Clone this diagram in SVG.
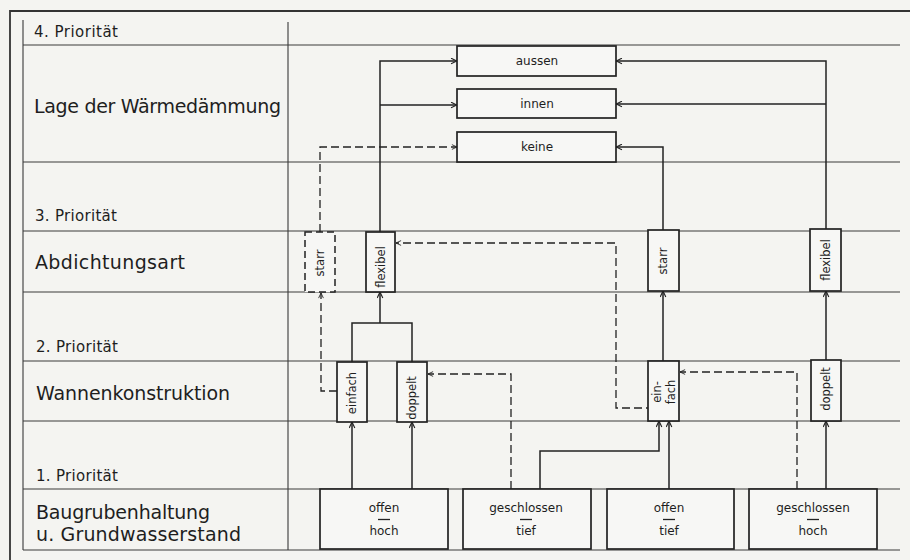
<svg xmlns="http://www.w3.org/2000/svg" width="910" height="560" viewBox="0 0 910 560">
<defs>
<style>
.bg{fill:#f4f4f1}
.grid{stroke:#3a3a3a;stroke-width:1.1;fill:none}
.frame{stroke:#333;stroke-width:1.8;fill:none}
.lbl{font-family:"DejaVu Sans","Liberation Sans",sans-serif;fill:#1e1e1e}
.big{font-size:19px}
.pri{font-size:15px}
.box{fill:#f7f7f5;stroke:#222;stroke-width:1.7}
.dbox{fill:#f7f7f5;stroke:#222;stroke-width:1.5;stroke-dasharray:7 4}
.bt{font-family:"DejaVu Sans","Liberation Sans",sans-serif;font-size:12px;fill:#1e1e1e;text-anchor:middle}
.vt{font-size:11.5px}
.bar{stroke:#222;stroke-width:1.3;fill:none}
.sol{stroke:#222;stroke-width:1.5;fill:none}
.dash{stroke:#222;stroke-width:1.3;fill:none;stroke-dasharray:8 4}
</style>
<marker id="a" viewBox="0 0 10 10" refX="9.5" refY="5" markerWidth="7" markerHeight="7" markerUnits="userSpaceOnUse" orient="auto"><path d="M1,1 L9.5,5 L1,9" fill="none" stroke="#222" stroke-width="1.6"/></marker>
<marker id="d" viewBox="0 0 10 10" refX="9.5" refY="5" markerWidth="6" markerHeight="6" markerUnits="userSpaceOnUse" orient="auto"><path d="M1,1 L9.5,5 L1,9" fill="none" stroke="#222" stroke-width="1.4"/></marker>
</defs>
<rect class="bg" x="0" y="0" width="910" height="560"/>

<g id="table">
<path class="frame" d="M10,560 V11 H910"/>
<path class="grid" d="M23,20 V550 M288,22 V550 M23,45 H900 M23,162 H900 M23,231 H900 M23,292 H900 M23,361 H900 M23,421 H900 M23,489 H900 M23,550 H900"/>
<text class="lbl pri" x="34" y="37" textLength="84" lengthAdjust="spacing">4. Priorität</text>
<text class="lbl big" x="34" y="113" textLength="247" lengthAdjust="spacing">Lage der Wärmedämmung</text>
<text class="lbl pri" x="35" y="221" textLength="82" lengthAdjust="spacing">3. Priorität</text>
<text class="lbl big" x="35" y="269" textLength="150" lengthAdjust="spacing">Abdichtungsart</text>
<text class="lbl pri" x="36" y="352" textLength="82" lengthAdjust="spacing">2. Priorität</text>
<text class="lbl big" x="36" y="400" textLength="194" lengthAdjust="spacing">Wannenkonstruktion</text>
<text class="lbl pri" x="36" y="481" textLength="82" lengthAdjust="spacing">1. Priorität</text>
<text class="lbl big" x="36" y="519" textLength="174" lengthAdjust="spacing">Baugrubenhaltung</text>
<text class="lbl big" x="36" y="541" textLength="205" lengthAdjust="spacing">u. Grundwasserstand</text>
</g>

<g id="connectors">
<path class="sol" d="M380,232 V61 H457" marker-end="url(#a)"/>
<path class="sol" d="M380,105 H457" marker-end="url(#a)"/>
<path class="sol" d="M826,229 V61 H616" marker-end="url(#a)"/>
<path class="sol" d="M826,104 H616" marker-end="url(#a)"/>
<path class="sol" d="M663,230 V147 H616" marker-end="url(#a)"/>
<path class="sol" d="M352,362 V323 H412 V362"/>
<path class="sol" d="M380,323 V292" marker-end="url(#a)"/>
<path class="sol" d="M352,489 V422" marker-end="url(#a)"/>
<path class="sol" d="M412,489 V422" marker-end="url(#a)"/>
<path class="sol" d="M540,489 V451 H659 V421" marker-end="url(#a)"/>
<path class="sol" d="M669,489 V421" marker-end="url(#a)"/>
<path class="sol" d="M663,361 V291" marker-end="url(#a)"/>
<path class="sol" d="M826,489 V421" marker-end="url(#a)"/>
<path class="sol" d="M826,360 V291" marker-end="url(#a)"/>

<path class="dash" d="M320,232 V147 H457" marker-end="url(#d)"/>
<path class="dash" d="M337,391 H321 V293" marker-end="url(#d)"/>
<path class="dash" d="M511,489 V374 H428" marker-end="url(#d)"/>
<path class="dash" d="M427,374 H412 V363" marker-end="url(#d)"/>
<path class="dash" d="M797,489 V372 H680" marker-end="url(#d)"/>
<path class="dash" d="M679,372 H663 V362" marker-end="url(#d)"/>
<path class="dash" d="M666,408 H616 V243 H396" marker-end="url(#d)"/>
<path class="dash" d="M395,243 H380 V233" marker-end="url(#d)"/>
<path class="dash" d="M663,408 L669,414" marker-end="url(#d)"/>
</g>

<g id="n-aussen"><rect class="box" x="457" y="46" width="159" height="30"/><text class="bt" x="537" y="65">aussen</text></g>
<g id="n-innen"><rect class="box" x="457" y="89" width="159" height="29"/><text class="bt" x="537" y="108">innen</text></g>
<g id="n-keine"><rect class="box" x="457" y="132" width="159" height="30"/><text class="bt" x="537" y="151">keine</text></g>

<g id="n-starr1"><rect class="dbox" x="305" y="232" width="30" height="60"/><text class="bt vt" transform="translate(324,263) rotate(-90)">starr</text></g>
<g id="n-flexibel1"><rect class="box" x="366" y="232" width="29" height="60"/><text class="bt vt" transform="translate(385,267) rotate(-90)">flexibel</text></g>
<g id="n-starr2"><rect class="box" x="648" y="230" width="31" height="61"/><text class="bt vt" transform="translate(667,261) rotate(-90)">starr</text></g>
<g id="n-flexibel2"><rect class="box" x="810" y="229" width="31" height="62"/><text class="bt vt" transform="translate(830,260) rotate(-90)">flexibel</text></g>

<g id="n-einfach1"><rect class="box" x="337" y="362" width="30" height="60"/><text class="bt vt" transform="translate(356,393) rotate(-90)">einfach</text></g>
<g id="n-doppelt1"><rect class="box" x="397" y="362" width="30" height="60"/><text class="bt vt" transform="translate(416,398) rotate(-90)">doppelt</text></g>
<g id="n-einfach2"><rect class="box" x="648" y="361" width="31" height="60"/><text class="bt vt" transform="translate(661,392) rotate(-90)">ein-</text><text class="bt vt" transform="translate(675,392) rotate(-90)">fach</text></g>
<g id="n-doppelt2"><rect class="box" x="811" y="360" width="30" height="61"/><text class="bt vt" transform="translate(830,389) rotate(-90)">doppelt</text></g>

<g id="n-offen-hoch"><rect class="box" x="320" y="489" width="128" height="60"/><text class="bt" x="384" y="512">offen</text><path class="bar" d="M378,519.5 H390"/><text class="bt" x="384" y="535">hoch</text></g>
<g id="n-geschlossen-tief"><rect class="box" x="463" y="489" width="128" height="60"/><text class="bt" x="526" y="512">geschlossen</text><path class="bar" d="M520,519.5 H532"/><text class="bt" x="526" y="535">tief</text></g>
<g id="n-offen-tief"><rect class="box" x="607" y="489" width="127" height="60"/><text class="bt" x="669" y="512">offen</text><path class="bar" d="M663,519.5 H675"/><text class="bt" x="669" y="535">tief</text></g>
<g id="n-geschlossen-hoch"><rect class="box" x="749" y="489" width="128" height="60"/><text class="bt" x="813" y="512">geschlossen</text><path class="bar" d="M807,519.5 H819"/><text class="bt" x="813" y="535">hoch</text></g>
</svg>
